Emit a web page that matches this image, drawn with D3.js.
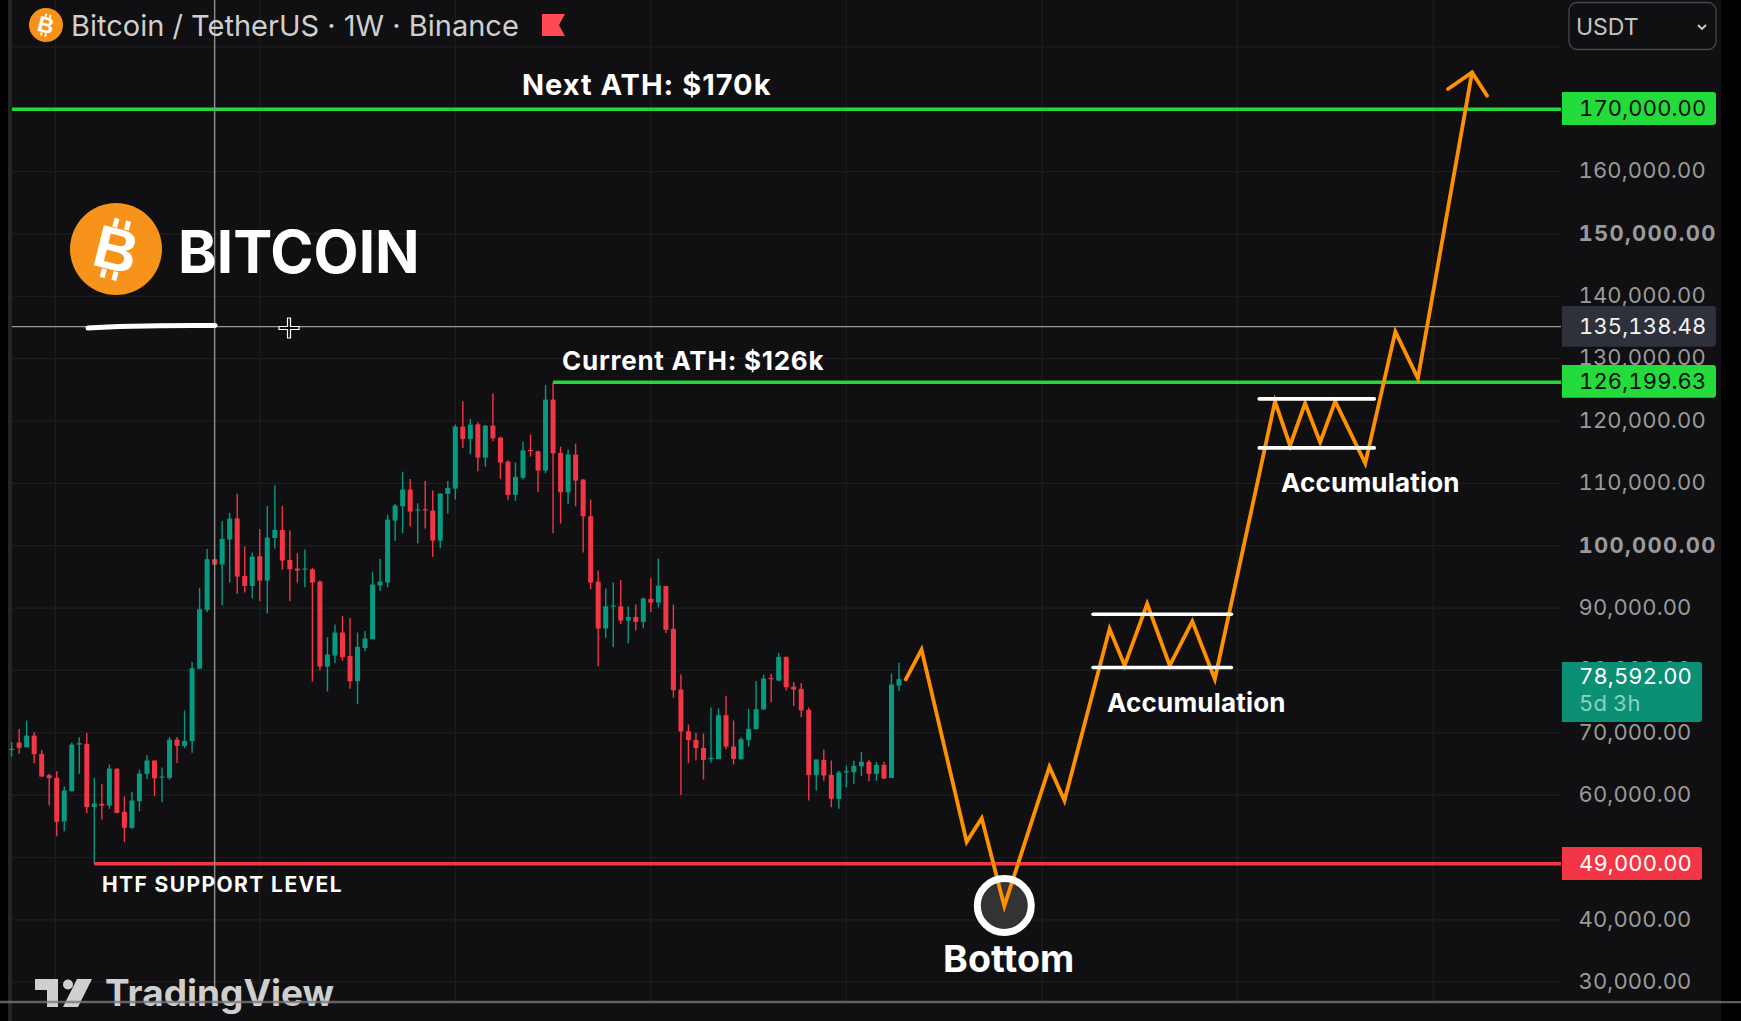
<!DOCTYPE html>
<html>
<head>
<meta charset="utf-8">
<script src="https://cdn.jsdelivr.net/npm/d3@7"></script>
<style>
html, body { margin: 0; padding: 0; background: #000; overflow: hidden; }
text { font-family: Inter, "Noto Sans", sans-serif; }
.num { font-variant-numeric: tabular-nums; }
</style>
</head>
<body>
<svg id="chart" width="1741" height="1021"></svg>
<script>
// weekly candles
var opens = [67260,68430,67680,69550,66610,63200,62770,55770,60630,68110,68220,58070,58600,58330,64210,57320,54750,59030,63410,65550,62820,62770,68910,67900,68650,80250,89700,97830,96970,100980,104350,95150,93550,98310,94410,101250,102530,97720,96330,96170,96220,94250,80620,82380,86070,82330,78270,83610,85000,93610,94090,104030,106320,109000,105680,105840,105630,100820,108300,109160,119100,117120,119470,114130,119260,117330,113490,108140,110920,115360,115140,112040,123430,114870,108570,114610,110600,104720,94250,86710,90240,90290,87990,88580,87780,91470,90880,93550,86660,76930,70250,68860,67580,65760,65760,72820,67790,65760,68860,70570,73730,78800,78370,82170,77410,77040,73670,63200,65660,63250,59400,63680,63680,64640,65340,63410,64850,62770,77570];
var highs = [68490,70620,71960,70090,67260,63410,63840,61380,68380,69290,69980,62770,61810,64910,64370,59780,60520,64100,66400,65550,64420,69290,69340,73560,81360,93230,99480,98040,103970,105250,108350,99860,98900,102690,106380,109640,106380,102420,98790,99380,96440,94410,85320,87350,88690,88420,86070,86340,95800,97880,104990,106700,111880,110710,106810,110390,108840,108460,110390,119420,123160,120330,119790,119310,124390,117490,113650,113330,116690,117810,115250,125780,126200,115890,115410,116370,110710,107390,96010,93120,94090,94510,90290,90560,91730,94780,97930,93550,90560,79340,71320,69980,69880,74050,73890,75920,71960,69290,73830,78320,79340,79440,82810,82220,78160,78000,74050,65710,67260,65550,63950,64750,65500,66890,65660,65340,65340,79500,81210];
var lows = [66190,66620,67600,65120,62900,58330,53420,54220,60600,63410,57100,49000,56090,57800,57100,52450,54590,57420,62550,59830,58870,62450,65170,67520,66780,80240,89330,96860,90450,94090,92270,92480,91520,91090,89170,99540,96170,91150,94090,93340,78220,79980,76610,81150,81580,77040,74580,83080,85000,92750,93340,100770,102000,103060,100390,102740,98200,99590,105150,107390,115680,114710,111940,112680,116750,110710,107290,107180,110600,114290,108620,111610,102000,103550,106700,106320,98900,93020,80670,85220,83770,87460,84360,86390,86760,89330,90130,86020,75650,60030,65120,65550,62500,65230,65760,67370,64910,65660,67790,70570,73730,74900,78270,76770,74310,72500,59140,60740,62290,58070,57800,61270,61810,63040,62240,62290,62560,62770,76660];
var closes = [67420,67580,69550,66560,62980,62710,55710,60740,68110,68330,58070,58650,58330,64260,57160,54750,59130,63460,65550,62710,62980,68910,67900,68700,80350,89810,97830,96970,101090,104350,95050,93550,98250,94410,101300,102530,97610,96220,96010,96330,94090,80620,82540,86070,82120,78270,83770,85110,93770,94250,104190,106430,109000,105470,105840,105680,100820,108360,109260,119100,117120,119420,114130,119260,117230,113330,108140,111030,115300,115200,112040,123430,114820,108570,114610,110440,104720,94090,86710,90290,90400,87990,88580,87780,91520,90880,93610,86500,76830,70200,68810,67530,65660,65980,72820,67790,65820,68970,70630,73780,78690,78590,82170,77310,76930,73570,63200,65710,63140,59400,63630,63840,64690,65340,63410,64850,62660,77730,78592];

// projected path drawn on the chart: bar number and price of each corner
var pathBars = [118.9,121,127,129,132,138,140,146,148,151,154,157,160,168,170,172,174,176,180,184,187,194.2];
var pathPrices = [78580,83340,52510,56290,42190,64540,59130,86660,80780,90670,80780,87880,78580,123150,116050,122830,116580,123150,113210,134330,126840,175900];
var arrowBars = [191,194.2,196.2];
var arrowPrices = [173240,175900,172170];

// accumulation ranges: first bar, last bar, price
var boxStart = [143.8,143.8,165.9,165.9];
var boxEnd = [162.2,162.2,181.2,181.2];
var boxPrice = [89000,80460,123540,115680];

var priceTicks = [30000,40000,50000,60000,70000,80000,90000,100000,110000,120000,130000,140000,150000,160000,170000];
var gridPrices = [30000,40000,50000,60000,70000,80000,90000,100000,110000,120000,130000,140000,150000,160000,170000,180000];
var gridBars = [5.8,33,59,85,111,137,163,189];
var boldTicks = [100000,150000];

var svg = d3.select("#chart");
var width = +svg.attr("width");
var height = +svg.attr("height");
var paneLeft = 12, paneRight = 1561, bottomY = 1002;

var x = d3.scaleLinear().domain([0,118]).range([11.6,899]);
var y = d3.scaleLinear().domain([30000,170000]).range([982.2,109.2]);
var bg = "#101012", green = "#089981", red = "#F23645", lime = "#25D83A", orange = "#FF9100";

svg.append("rect").attr("x",8).attr("y",0).attr("width",1713).attr("height",height).attr("fill",bg);
svg.append("rect").attr("x",8).attr("y",0).attr("width",4).attr("height",height).attr("fill","#252527");

// grid
svg.selectAll(".hgrid").data(gridPrices).enter().append("line")
    .attr("x1",paneLeft).attr("x2",paneRight)
    .attr("y1",function(d){return y(d);}).attr("y2",function(d){return y(d);})
    .attr("stroke","#1e1e20").attr("stroke-width",1.2);
svg.selectAll(".vgrid").data(gridBars).enter().append("line")
    .attr("x1",function(d){return x(d);}).attr("x2",function(d){return x(d);})
    .attr("y1",0).attr("y2",bottomY)
    .attr("stroke","#1e1e20").attr("stroke-width",1.2);

// price axis
var axis = d3.axisRight(y).tickValues(priceTicks).tickSize(0).tickPadding(0).tickFormat(d3.format(",.2f"));
var axisG = svg.append("g").attr("transform","translate(1578.5,-0.7)").call(axis);
axisG.select(".domain").remove();
axisG.selectAll("text")
    .attr("class","num")
    .attr("fill","#9a9a9a")
    .style("font-family","Inter")
    .style("font-size","22px")
    .style("letter-spacing",function(d){return boldTicks.indexOf(d)>=0?"1.25px":"0.15px";})
    .style("font-weight",function(d){return boldTicks.indexOf(d)>=0?700:400;});

// candles
var bars = d3.range(opens.length);
svg.selectAll(".wick").data(bars).enter().append("line")
    .attr("x1",function(i){return x(i);}).attr("x2",function(i){return x(i);})
    .attr("y1",function(i){return y(highs[i]);}).attr("y2",function(i){return y(lows[i]);})
    .attr("stroke",function(i){return closes[i]>=opens[i]?green:red;})
    .attr("stroke-width",1.4);
svg.selectAll(".body").data(bars).enter().append("rect")
    .attr("x",function(i){return x(i)-2.5;}).attr("width",5)
    .attr("y",function(i){return y(Math.max(opens[i],closes[i]));})
    .attr("height",function(i){return Math.max(1.2,Math.abs(y(opens[i])-y(closes[i])));})
    .attr("fill",function(i){return closes[i]>=opens[i]?green:red;});

// level lines
function level(from,price,color,w){
    svg.append("line").attr("x1",from).attr("x2",paneRight)
        .attr("y1",y(price)).attr("y2",y(price))
        .attr("stroke",color).attr("stroke-width",w);
}
level(paneLeft,135138.48,"#9a9a9a",1.2);
level(paneLeft,170000,lime,3.5);
level(x(72),126199.63,lime,3.5);
level(x(11),49000,red,3.5);

// crosshair vertical
svg.append("line").attr("x1",x(27)).attr("x2",x(27)).attr("y1",0).attr("y2",bottomY)
    .attr("stroke","#8f8f8f").attr("stroke-width",1.4);

// projected path
var line = d3.line().x(function(i){return x(pathBars[i]);}).y(function(i){return y(pathPrices[i]);});
var arrow = d3.line().x(function(i){return x(arrowBars[i]);}).y(function(i){return y(arrowPrices[i]);});

svg.append("circle").attr("cx",x(pathBars[4])).attr("cy",905.5).attr("r",27).attr("fill","#333335");
svg.append("path").attr("d",line(d3.range(pathBars.length)))
    .attr("fill","none").attr("stroke",orange).attr("stroke-width",3.8)
    .attr("stroke-linecap","round").attr("stroke-linejoin","miter");
svg.append("path").attr("d",arrow(d3.range(arrowBars.length)))
    .attr("fill","none").attr("stroke",orange).attr("stroke-width",3.8)
    .attr("stroke-linecap","round");
svg.append("circle").attr("cx",x(pathBars[4])).attr("cy",905.5).attr("r",27)
    .attr("fill","none").attr("stroke","#fff").attr("stroke-width",7);

svg.selectAll(".box").data(boxPrice).enter().append("line")
    .attr("x1",function(d,i){return x(boxStart[i]);}).attr("x2",function(d,i){return x(boxEnd[i]);})
    .attr("y1",function(d){return y(d);}).attr("y2",function(d){return y(d);})
    .attr("stroke","#fff").attr("stroke-width",3.6).attr("stroke-linecap","round");

// price pills
function pill(x0,x1,y0,y1,color,label,textColor){
    svg.append("path")
        .attr("d","M"+x0+","+y0+"H"+(x1-3)+"Q"+x1+","+y0+" "+x1+","+(y0+3)+"V"+(y1-3)+"Q"+x1+","+y1+" "+(x1-3)+","+y1+"H"+x0+"Z")
        .attr("fill",color);
    svg.append("text").attr("class","num").attr("x",1579).attr("y",(y0+y1)/2).attr("dy","0.34em")
        .attr("fill",textColor).style("font-size","22px").style("letter-spacing","0.15px").text(label);
}
pill(1562,1716,92,125,"#23DB3A","170,000.00","#0d0d0d");
pill(1562,1716,306,346.7,"#2E3139","135,138.48","#f2f2f2");
pill(1562,1716,365,397.7,"#23DB3A","126,199.63","#0d0d0d");
pill(1562,1702,847,880,"#F23645","49,000.00","#ffffff");
svg.append("path").attr("d","M1562,662H1699Q1702,662 1702,665V719Q1702,722 1699,722H1562Z").attr("fill","#0B8F75");
svg.append("text").attr("class","num").attr("x",1579).attr("y",677).attr("dy","0.34em").attr("fill","#fff")
    .style("font-size","22px").style("letter-spacing","0.15px").text("78,592.00");
svg.append("text").attr("class","num").attr("x",1579).attr("y",704).attr("dy","0.34em").attr("fill","#86d4bf")
    .style("font-size","22px").style("letter-spacing","0.15px").text("5d 3h");

// annotations
function note(tx,ty,size,weight,label,fill,spacing){
    svg.append("text").attr("x",tx).attr("y",ty).attr("dy","0.36em")
        .attr("fill",fill||"#fff").style("font-size",size+"px").style("font-weight",weight)
        .style("letter-spacing",(spacing||0)+"px").text(label);
}
note(522,84.5,29,700,"Next ATH: $170k",null,1);
note(562,360.5,26,700,"Current ATH: $126k",null,0.75);
note(1107,702.5,26,700,"Accumulation",null,0.2);
note(1281,482.5,26,700,"Accumulation",null,0.2);
note(943,958,37.5,700,"Bottom",null,0.1);
note(102,884,21,700,"HTF SUPPORT LEVEL",null,1.4);
note(178,252,58.5,700,"BITCOIN");
note(71,26,29,400,"Bitcoin / TetherUS \u00b7 1W \u00b7 Binance","#cfcfcf");

// coin icons
function coin(cx,cy,r){
    svg.append("circle").attr("cx",cx).attr("cy",cy).attr("r",r).attr("fill","#F7931A");
    var g = svg.append("g").attr("transform","translate("+cx+","+cy+") rotate(14) scale("+(r/46)+")");
    g.append("text").attr("text-anchor","middle").attr("y",21).attr("fill","#fff")
        .style("font-family","Liberation Sans").style("font-weight",700).style("font-size","60px").text("B");
    [[-9,-30],[3,-30],[-9,22],[3,22]].forEach(function(p){
        g.append("rect").attr("x",p[0]).attr("y",p[1]).attr("width",5).attr("height",9).attr("fill","#fff");
    });
}
coin(116,249,46);
coin(46,25,17);

// flag
svg.append("path").attr("d","M542,14H565L559,25L565,36H542Z").attr("fill","#FF4A55");

// USDT box
svg.append("rect").attr("x",1569).attr("y",2.5).attr("width",147).attr("height",47).attr("rx",8)
    .attr("fill","none").attr("stroke","#47484c").attr("stroke-width",1.3);
svg.append("text").attr("x",1576).attr("y",27).attr("dy","0.36em").attr("fill","#c4c4c4").style("font-size","23px").text("USDT");
svg.append("path").attr("d","M1698,25L1702,29L1706,25").attr("fill","none").attr("stroke","#ccc").attr("stroke-width",1.8);

// underline and cursor
svg.append("path").attr("d","M88,328Q130,325 215,325.5").attr("fill","none").attr("stroke","#fff").attr("stroke-width",5).attr("stroke-linecap","round");
svg.append("path").attr("d","M287.5,318h3v8.5h8.5v3h-8.5v8.5h-3v-8.5h-8.5v-3h8.5Z").attr("fill","#111").attr("stroke","#fff").attr("stroke-width",1.2);

// TradingView logo
svg.append("path").attr("d","M35,979H58V1007H47V990H35Z").attr("fill","#cfcfcf");
svg.append("circle").attr("cx",68).attr("cy",984.5).attr("r",5).attr("fill","#cfcfcf");
svg.append("path").attr("d","M77,979H92L78,1007H63Z").attr("fill","#cfcfcf");
svg.append("text").attr("x",105).attr("y",1006).attr("fill","#cfcfcf").style("font-size","37px").style("font-weight",700).text("TradingView");

// bottom edge
svg.append("line").attr("x1",0).attr("x2",width).attr("y1",bottomY).attr("y2",bottomY).attr("stroke","#777").attr("stroke-width",2.4).attr("stroke-opacity",0.8);
svg.append("rect").attr("x",1721).attr("y",0).attr("width",20).attr("height",bottomY-1).attr("fill","#000");
</script>
</body>
</html>
